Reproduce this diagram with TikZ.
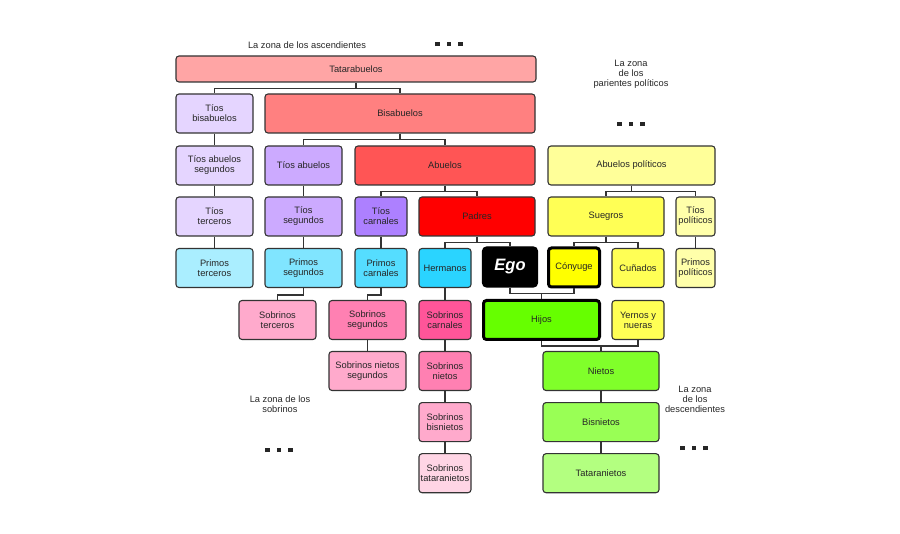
\documentclass[tikz,border=0pt]{standalone}
\usepackage{fontspec}
\setmainfont{Liberation Sans}
\usetikzlibrary{positioning}

\definecolor{cTata}{HTML}{FFA5A5}
\definecolor{cBis}{HTML}{FF8080}
\definecolor{cAbu}{HTML}{FF5555}
\definecolor{cPad}{HTML}{FF0000}
\definecolor{cLavA}{HTML}{E5D5FF}
\definecolor{cLavB}{HTML}{CCAAFF}
\definecolor{cLavC}{HTML}{AD80FF}
\definecolor{cCyA}{HTML}{AAEEFF}
\definecolor{cCyB}{HTML}{80E5FF}
\definecolor{cCyC}{HTML}{55DDFF}
\definecolor{cCyD}{HTML}{2AD4FF}
\definecolor{cPkA}{HTML}{FFAACC}
\definecolor{cPkB}{HTML}{FF80B2}
\definecolor{cPkC}{HTML}{FF5599}
\definecolor{cPkD}{HTML}{FFD5E5}
\definecolor{cYeA}{HTML}{FFFF99}
\definecolor{cYeB}{HTML}{FFFF55}
\definecolor{cYeC}{HTML}{FFFF00}
\definecolor{cYeD}{HTML}{FFFFAA}
\definecolor{cGrA}{HTML}{66FF00}
\definecolor{cGrB}{HTML}{80FF2A}
\definecolor{cGrC}{HTML}{99FF55}
\definecolor{cGrD}{HTML}{B3FF80}

\newcommand{\dsq}{\rule{4.5pt}{4.5pt}}
\newcommand{\zonedots}{\dsq\hspace{7pt}\dsq\hspace{7pt}\dsq}

\tikzset{
  pbox/.style={draw=black!80, line width=1.1pt, rounded corners=3pt, align=center,
    minimum height=39pt, inner sep=1pt, text=black!85,
    font=\fontsize{9.3}{10}\selectfont},
  keybox/.style={pbox, draw=black, line width=3pt},
  zone/.style={align=center, inner sep=0pt, text=black!85, font=\fontsize{9.3}{10}\selectfont},
  link/.style={draw=black!80, line width=1.3pt},
  node distance=11pt
}

\begin{document}
\begin{tikzpicture}[x=1pt, y=-1pt]
\useasboundingbox (0,0) rectangle (900,534);

\node (z1) [zone] at (307,45) {La zona de los ascendientes};
\node (d1) [zone] at (449,44) {\zonedots};
\node (z2) [zone] at (631,74) {La zona\\de los\\parientes políticos};
\node (d2) [zone] at (631,124) {\zonedots};
\node (z3) [zone] at (280,404) {La zona de los\\sobrinos};
\node (d3) [zone] at (279,450) {\zonedots};
\node (z4) [zone] at (695,399) {La zona\\de los\\descendientes};
\node (d4) [zone] at (694,448) {\zonedots};

% ascendientes
\node (tata) [pbox, fill=cTata, minimum width=360pt, minimum height=26pt] at (356,69) {Tatarabuelos};
\node (tbis) [pbox, fill=cLavA, minimum width=77pt] at (214.5,113.5) {Tíos\\bisabuelos};
\node (bis) [pbox, fill=cBis, minimum width=270pt] at (400,113.5) {Bisabuelos};
\node (tabs) [pbox, fill=cLavA, minimum width=77pt] at (214.5,165.5) {Tíos abuelos\\segundos};
\node (tab) [pbox, fill=cLavB, minimum width=77pt] at (303.5,165.5) {Tíos abuelos};
\node (abu) [pbox, fill=cAbu, minimum width=180pt] at (445,165.5) {Abuelos};
\node (abpol) [pbox, fill=cYeA, minimum width=167pt] at (631.5,165.5) {Abuelos políticos};

\node (tter) [pbox, fill=cLavA, minimum width=77pt] at (214.5,216.5) {Tíos\\terceros};
\node (tseg) [pbox, fill=cLavB, minimum width=77pt] at (303.5,216.5) {Tíos\\segundos};
\node (tcar) [pbox, fill=cLavC, minimum width=52pt] at (381,216.5) {Tíos\\carnales};
\node (pad) [pbox, fill=cPad, minimum width=116pt] at (477,216.5) {Padres};
\node (sueg) [pbox, fill=cYeB, minimum width=116pt] at (606,216.5) {Suegros};
\node (tpol) [pbox, fill=cYeD, minimum width=39pt] at (695.5,216.5) {Tíos\\políticos};

% generacion de ego
\node (pter) [pbox, fill=cCyA, minimum width=77pt] at (214.5,268) {Primos\\terceros};
\node (pseg) [pbox, fill=cCyB, minimum width=77pt] at (303.5,268) {Primos\\segundos};
\node (pcar) [pbox, fill=cCyC, minimum width=52pt] at (381,268) {Primos\\carnales};
\node (herm) [pbox, fill=cCyD, minimum width=52pt] at (445,268) {Hermanos};
\node (ego) [pbox, draw=black, fill=black, text=white, minimum width=55pt, minimum height=40pt,
  rounded corners=4pt, font=\fontsize{16.5}{18}\selectfont\bfseries\itshape] at (510,267) {Ego};
\node (cony) [keybox, fill=cYeC, minimum width=51pt] at (574,267.5) {Cónyuge};
\node (cun) [pbox, fill=cYeB, minimum width=52pt] at (638,268) {Cuñados};
\node (ppol) [pbox, fill=cYeD, minimum width=39pt] at (695.5,268) {Primos\\políticos};

% descendientes
\node (ster) [pbox, fill=cPkA, minimum width=77pt] at (277.5,320) {Sobrinos\\terceros};
\node (sseg) [pbox, fill=cPkB, minimum width=77pt] at (367.5,320) {Sobrinos\\segundos};
\node (scar) [pbox, fill=cPkC, minimum width=52pt] at (445,320) {Sobrinos\\carnales};
\node (hijos) [keybox, fill=cGrA, minimum width=116pt] at (541.5,320) {Hijos};
\node (yern) [pbox, fill=cYeB, minimum width=52pt] at (638,320) {Yernos y\\nueras};

\node (snseg) [pbox, fill=cPkA, minimum width=77pt] at (367.5,371) {Sobrinos nietos\\segundos};
\node (snie) [pbox, fill=cPkB, minimum width=52pt] at (445,371) {Sobrinos\\nietos};
\node (nietos) [pbox, fill=cGrB, minimum width=116pt] at (601,371) {Nietos};
\node (sbis) [pbox, fill=cPkA, minimum width=52pt, below=of snie] {Sobrinos\\bisnietos};
\node (bisn) [pbox, fill=cGrC, minimum width=116pt, below=of nietos] {Bisnietos};
\node (stat) [pbox, fill=cPkD, minimum width=52pt, below=of sbis] {Sobrinos\\tataranietos};
\node (tatan) [pbox, fill=cGrD, minimum width=116pt, below=of bisn] {Tataranietos};

\draw[link] (tata.south) -- ++(0,6) -| (tbis.north);
\draw[link] (tata.south) -- ++(0,6) -| (bis.north);
\draw[link] (bis.south) -- ++(0,6) -| (tab.north);
\draw[link] (bis.south) -- ++(0,6) -| (abu.north);
\draw[link] (abu.south) -- ++(0,6) -| (tcar.north);
\draw[link] (abu.south) -- ++(0,6) -| (pad.north);
\draw[link] (abpol.south) -- ++(0,6) -| (sueg.north);
\draw[link] (abpol.south) -- ++(0,6) -| (tpol.north);
\draw[link] (pad.south) -- ++(0,6) -| (herm.north);
\draw[link] (pad.south) -- ++(0,6) -| (ego.north);
\draw[link] (sueg.south) -- ++(0,6) -| (cony.north);
\draw[link] (sueg.south) -- ++(0,6) -| (cun.north);

\draw[link] (tbis.south) -- (tabs.north);
\draw[link] (tabs.south) -- (tter.north);
\draw[link] (tab.south) -- (tseg.north);
\draw[link] (tter.south) -- (pter.north);
\draw[link] (tseg.south) -- (pseg.north);
\draw[link] (tcar.south) -- (pcar.north);
\draw[link] (tpol.south) -- (ppol.north);

\draw[link] (pseg.south) -- ++(0,7) -| (ster.north);
\draw[link] (pcar.south) -- ++(0,7) -| (sseg.north);
\draw[link] (herm.south) -- (scar.north);
\draw[link] (ego.south) -- ++(0,6) coordinate (e1) -| (cony.south);
\draw[link] (hijos.north) -- (hijos.north |- e1);
\draw[link] (hijos.south) -- ++(0,5) coordinate (h1) -| (yern.south);
\draw[link] (nietos.north) -- (nietos.north |- h1);

\draw[link] (sseg.south) -- (snseg.north);
\draw[link] (scar.south) -- (snie.north);
\draw[link] (snie.south) -- (sbis.north);
\draw[link] (sbis.south) -- (stat.north);
\draw[link] (nietos.south) -- (bisn.north);
\draw[link] (bisn.south) -- (tatan.north);

\end{tikzpicture}
\end{document}
